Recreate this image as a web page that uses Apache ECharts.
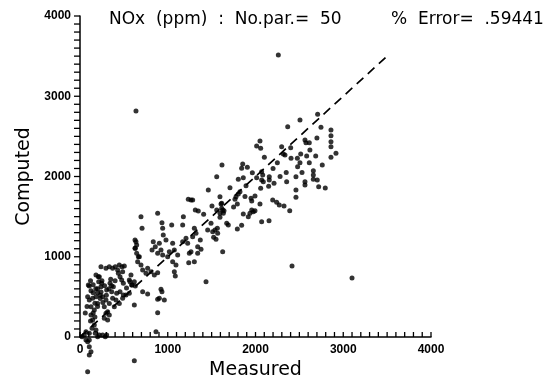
<!DOCTYPE html>
<html>
<head>
<meta charset="utf-8">
<script src="https://cdn.jsdelivr.net/npm/echarts@6/dist/echarts.min.js"></script>
<style>html,body{margin:0;padding:0;background:#fff}#c{width:554px;height:376px}</style>
</head>
<body>
<div id="c"></div>
<script>
const measured = [
2260,2708,2507,2367,2746,2860,2860,2860,2860,2917,2860,2564,2575,2613,2051,2013,2059,2298,2401,2317,
2336,2101,2405,2477,2515,2507,2583,2613,2686,2761,2249,1618,1854,1842,1907,1964,2070,2082,1861,1804,
2013,2070,2089,2157,2157,2211,2355,2461,2659,2659,2659,2564,2564,2704,2720,2795,1709,1892,2059,2461,
2461,1823,1804,1778,1766,1994,1949,1957,1595,1615,1793,2051,2196,2241,2271,2325,2390,1957,1975,1994,
1937,1861,1918,1641,1633,1672,1690,1842,1793,2070,2154,1595,1615,
695,885,707,934,942,949,1045,1178,1170,1314,1409,1504,1607,1265,1626,1493,1455,1512,1569,1303,
1322,1284,1208,1170,1227,1371,1341,1379,1341,1246,1265,1303,1239,1113,1523,1550,1626,1436,638,630,
646,835,858,821,904,923,885,942,980,1056,1075,1018,999,1094,1075,1086,1056,676,657,695,
714,771,752,809,847,885,581,562,619,593,630,714,771,619,923,934,904,961,885,885,
866,619,87,239,296,334,372,402,448,479,505,429,486,220,213,239,106,125,87,106,
144,182,125,163,201,258,296,277,315,334,372,410,391,448,486,524,562,296,334,277,
315,125,144,163,182,137,106,174,201,220,258,288,304,49,68,23,87,106,125,106,
68,106,182,
627,646,627,665,209,247,95,437,456,475,494,570,589,342,380,304,361,418,456,494,
1558,1462,1234,1284,1348,1558,1595,1538,1565,
638,2416,3100,
150,200,250,170,230,60,80,120,280,350,
150,180,200,230,260,300,330,200,150,120,170,240,360,400,530,
2200,2350,2480,2620,2150,2280,2530,2700,1750,1880
];
const computed = [
3514,2775,2704,2621,2613,2580,2508,2434,2371,2289,2239,2455,2421,2421,2442,2380,2351,2371,2359,2280,
2268,2239,2227,2227,2280,2172,2255,2172,2255,2143,2172,2143,2156,2102,2114,2048,2060,2019,1985,1965,
1985,1956,1935,1998,1956,1915,1935,1998,2073,2019,1965,1935,1894,1956,1873,1857,1861,1886,1853,1832,
1741,1811,1782,1748,1716,1757,1728,1695,1748,1666,1657,1657,1707,1678,1645,1632,1574,1583,1562,1574,
1541,1533,1499,1574,1541,1417,1396,1392,1346,1437,1449,1541,1604,
1499,1541,1354,1425,1354,1271,1396,1499,1396,1583,1529,1632,1657,1707,1583,1417,1333,1312,1292,1354,
1292,1250,1230,1188,1167,1209,1125,1093,1043,1043,1063,938,926,1022,1242,1217,1063,689,1188,1105,
1043,1188,1125,1084,1167,1084,1043,1022,1209,1167,1084,1063,1001,897,814,760,938,1001,938,897,
835,856,793,814,772,801,772,710,689,648,635,565,536,399,594,565,482,461,470,303,
66,-295,-432,876,856,876,856,876,897,876,885,835,814,751,689,627,635,577,502,461,
482,502,378,336,419,502,461,378,316,419,482,461,378,419,482,523,544,295,274,233,
212,274,212,150,87,108,46,46,4,25,25,4,25,25,66,4,-58,-120,-183,-224,
-37,-37,772,
1209,1146,1105,1001,751,669,648,794,751,710,669,689,648,669,627,586,565,544,565,523,
1998,1832,1716,1707,1570,1583,1492,1333,1354,
2816,885,735,
550,600,700,420,520,300,380,700,640,720,
650,600,550,480,430,520,600,380,300,200,250,560,640,700,610,
2100,2050,2120,2330,1880,2000,2050,2480,1620,1750
];
// Reference 1:1 line end points
const refLineX = [0, 3500];
const refLineY = [0, 3500];
// Axis settings: labelled every 1000, tick marks every 100
const axisMin = 0, axisMax = 4000, labelStep = 1000, tickStep = 100;
const tickValues = [];
for (let v = axisMin; v <= axisMax; v += tickStep) tickValues.push(v);

const points = measured.map((m, i) => [m, computed[i]]);
const refLine = refLineX.map((x, i) => [x, refLineY[i]]);

const chart = echarts.init(document.getElementById('c'));
const fontName = 'DejaVu Sans';
const labelStyle = {color: '#000', fontFamily: 'Liberation Sans', fontWeight: 'bold', fontSize: 12,
  formatter: v => String(v)};

function axis(pos, name, gap, margin) {
  return {
    type: 'value', position: pos, min: axisMin, max: axisMax, interval: labelStep,
    name: name, nameLocation: 'middle', nameGap: gap, nameRotate: pos === 'left' ? 90 : 0,
    nameTextStyle: {fontFamily: fontName, fontSize: 19, color: '#000'},
    axisLine: {show: true, onZero: false, lineStyle: {color: '#000', width: 1.5}},
    axisTick: {show: false},
    splitLine: {show: false},
    axisLabel: Object.assign({margin: margin}, labelStyle)
  };
}
// tick marks placed through the axis scales (x ticks point up, y ticks point left)
function tickSeries(isX, len) {
  return {
    type: 'custom', silent: true, clip: false, z: 5,
    data: tickValues.map(v => isX ? [v, axisMin] : [axisMin, v]),
    renderItem: (params, api) => {
      const p = api.coord([api.value(0), api.value(1)]);
      return {
        type: 'line',
        shape: isX ? {x1: p[0], y1: p[1], x2: p[0], y2: p[1] - len}
                   : {x1: p[0], y1: p[1], x2: p[0] - len, y2: p[1]},
        style: {stroke: '#000', lineWidth: 1.3}
      };
    }
  };
}

chart.setOption({
  animation: false,
  backgroundColor: '#fff',
  title: [
    {text: 'NOx  (ppm)  :  No.par.=  50', left: 104, top: 6,
     textStyle: {fontFamily: fontName, fontWeight: 'normal', fontSize: 17, color: '#000'}},
    {text: '%  Error=  .59441', left: 386, top: 6,
     textStyle: {fontFamily: fontName, fontWeight: 'normal', fontSize: 17, color: '#000'}}
  ],
  grid: {left: 80, right: 123, top: 16, bottom: 39, containLabel: false, outerBoundsMode: 'none'},
  xAxis: axis('bottom', 'Measured', 20, 7),
  yAxis: axis('left', 'Computed', 45, 9),
  series: [
    {
      type: 'line', data: refLine, symbol: 'none', silent: true,
      lineStyle: {color: '#000', width: 1.7, type: [9, 6]}
    },
    {
      type: 'scatter', data: points, symbol: 'circle', symbolSize: 5, clip: false,
      itemStyle: {color: '#000'}
    },
    tickSeries(true, 5),
    tickSeries(false, 6)
  ]
});
</script>
</body>
</html>
